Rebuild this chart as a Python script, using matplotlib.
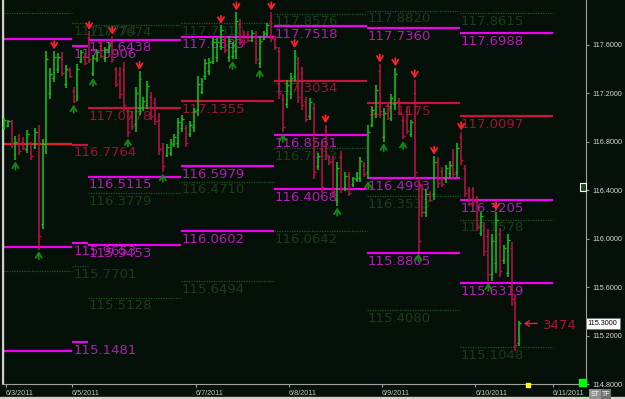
import matplotlib
matplotlib.use('Agg')
import matplotlib.pyplot as plt
from matplotlib import font_manager
from matplotlib.patches import Rectangle

# hourly bars, x = hours from left edge of the chart
bar_hour = list(range(1, 135))
opens = [116.92, 116.93, 116.96, 116.70, 116.82, 116.80, 116.74, 116.78, 116.76, 116.88,
         116.12, 116.78, 117.20, 117.33, 117.40, 117.50, 117.28, 117.39, 117.22, 117.18,
         117.47, 117.51, 117.66, 117.37, 117.48, 117.59, 117.49, 117.55, 117.62, 117.40,
         117.36, 117.40, 117.05, 117.01, 116.95, 117.08, 117.08, 117.10, 117.17, 117.12,
         116.98, 116.75, 116.69, 116.71, 116.78, 116.79, 116.91, 116.91, 116.86, 116.92,
         117.06, 117.21, 117.34, 117.38, 117.47, 117.50, 117.59, 117.64, 117.50, 117.51,
         117.55, 117.77, 117.68, 117.69, 117.64, 117.67, 117.45, 117.65, 117.69, 117.80,
         117.65, 117.55, 117.15, 117.11, 117.19, 117.34, 117.45, 117.37, 117.14, 117.01,
         117.08, 116.60, 116.74, 116.90, 116.67, 116.64, 116.32, 116.67, 116.42, 116.52,
         116.45, 116.49, 116.50, 116.61, 116.55, 116.94, 117.04, 117.38, 116.84, 117.10,
         117.00, 117.11, 117.14, 116.98, 117.05, 116.86, 117.20, 116.45, 116.41, 116.22,
         116.37, 116.37, 116.63, 116.56, 116.49, 116.54, 116.69, 116.55, 116.84, 116.58,
         116.40, 116.41, 116.31, 116.05, 116.10, 116.02, 115.71, 115.80, 116.04, 115.82,
         115.72, 115.92, 115.48, 115.14]
highs = [117.00, 116.98, 116.98, 116.85, 116.86, 116.84, 116.90, 116.80, 116.91, 116.94,
         116.82, 117.55, 117.41, 117.55, 117.53, 117.54, 117.43, 117.41, 117.25, 117.44,
         117.56, 117.53, 117.71, 117.52, 117.56, 117.62, 117.58, 117.62, 117.67, 117.42,
         117.42, 117.46, 117.09, 117.05, 117.25, 117.38, 117.17, 117.30, 117.21, 117.16,
         117.04, 116.79, 116.78, 116.82, 116.86, 117.00, 117.02, 116.94, 116.97, 117.08,
         117.34, 117.33, 117.48, 117.49, 117.66, 117.66, 117.76, 117.67, 117.67, 117.62,
         117.87, 117.81, 117.71, 117.71, 117.72, 117.71, 117.67, 117.71, 117.78, 117.87,
         117.67, 117.58, 117.19, 117.31, 117.37, 117.56, 117.50, 117.42, 117.17, 117.16,
         117.12, 116.71, 116.79, 116.94, 116.69, 116.68, 116.63, 116.72, 116.55, 116.55,
         116.51, 116.55, 116.67, 116.63, 116.94, 117.09, 117.27, 117.44, 117.08, 117.12,
         117.19, 117.41, 117.16, 117.01, 117.09, 116.98, 117.31, 116.51, 116.45, 116.41,
         116.39, 116.68, 116.67, 116.59, 116.61, 116.64, 116.74, 116.79, 116.88, 116.61,
         116.43, 116.43, 116.35, 116.22, 116.14, 116.08, 116.04, 116.22, 116.09, 115.95,
         116.04, 115.97, 115.54, 115.32]
lows = [116.90, 116.92, 116.75, 116.65, 116.69, 116.73, 116.71, 116.65, 116.74, 115.91,
        116.08, 116.70, 117.15, 117.29, 117.37, 117.34, 117.24, 117.33, 117.12, 117.14,
        117.45, 117.43, 117.45, 117.34, 117.46, 117.49, 117.46, 117.53, 117.45, 117.25,
        117.15, 117.05, 116.84, 116.90, 116.88, 117.02, 117.05, 117.07, 116.98, 116.94,
        116.69, 116.55, 116.67, 116.68, 116.76, 116.75, 116.88, 116.76, 116.84, 116.88,
        117.01, 117.19, 117.31, 117.35, 117.44, 117.46, 117.56, 117.53, 117.46, 117.48,
        117.48, 117.60, 117.60, 117.62, 117.62, 117.44, 117.41, 117.64, 117.67, 117.62,
        117.56, 117.15, 116.88, 117.08, 117.15, 117.30, 117.12, 117.06, 116.96, 116.98,
        116.49, 116.57, 116.38, 116.65, 116.61, 116.35, 116.27, 116.38, 116.39, 116.35,
        116.43, 116.47, 116.47, 116.51, 116.49, 116.92, 117.00, 117.00, 116.80, 116.98,
        116.97, 117.06, 117.02, 116.82, 116.86, 116.84, 116.49, 115.89, 116.18, 116.18,
        116.30, 116.32, 116.42, 116.43, 116.46, 116.51, 116.49, 116.51, 116.61, 116.34,
        116.27, 116.27, 116.06, 116.02, 115.86, 115.65, 115.65, 115.72, 115.68, 115.79,
        115.68, 115.44, 115.07, 115.11]
closes = [116.98, 116.97, 116.78, 116.80, 116.72, 116.75, 116.86, 116.68, 116.88, 116.02,
          116.78, 117.48, 117.36, 117.50, 117.50, 117.37, 117.40, 117.34, 117.14, 117.40,
          117.54, 117.45, 117.48, 117.49, 117.54, 117.51, 117.56, 117.60, 117.48, 117.28,
          117.19, 117.10, 116.88, 116.93, 117.20, 117.32, 117.14, 117.26, 117.01, 116.97,
          116.74, 116.60, 116.76, 116.79, 116.84, 116.96, 116.99, 116.79, 116.94, 117.05,
          117.28, 117.30, 117.45, 117.46, 117.62, 117.62, 117.72, 117.56, 117.63, 117.60,
          117.80, 117.63, 117.62, 117.64, 117.70, 117.48, 117.63, 117.70, 117.76, 117.66,
          117.58, 117.20, 116.92, 117.27, 117.33, 117.51, 117.17, 117.10, 116.99, 117.13,
          116.55, 116.68, 116.43, 116.69, 116.63, 116.39, 116.58, 116.42, 116.52, 116.38,
          116.50, 116.54, 116.64, 116.53, 116.88, 117.06, 117.23, 117.05, 117.04, 117.00,
          117.16, 117.36, 117.04, 116.85, 116.89, 116.96, 116.55, 115.98, 116.22, 116.37,
          116.32, 116.63, 116.46, 116.45, 116.58, 116.61, 116.53, 116.75, 116.65, 116.38,
          116.29, 116.30, 116.10, 116.19, 115.90, 115.71, 115.98, 116.15, 115.73, 115.92,
          115.99, 115.50, 115.12, 115.30]
up_arrows = [4, 10, 19, 24, 33, 42, 60, 67, 73, 87, 95, 99, 104, 108, 126]
down_arrows = [14, 23, 29, 36, 57, 61, 70, 76, 84, 98, 102, 107, 112, 119, 128]

# daily pivot segments
seg_start = [-2.0, 18.6, 22.6, 46.6, 70.6, 94.6, 118.6]
seg_end = [18.6, 22.6, 46.6, 70.6, 94.6, 118.6, 142.6]
level_seg = [0, 0, 0, 0, 0, 0,
             1, 1, 1, 1, 1, 1,
             2, 2, 2, 2, 2, 2, 2,
             3, 3, 3, 3, 3, 3, 3,
             4, 4, 4, 4, 4, 4, 4,
             5, 5, 5, 5, 5, 5, 5,
             6, 6, 6, 6, 6, 6, 6]
level_val = [117.860, 117.650, 116.785, 115.929, 115.732, 115.073,
             117.7774, 117.5906, 116.7764, 115.9653, 115.7701, 115.1481,
             117.7674, 117.6438, 117.0778, 116.5115, 116.3779, 115.9453, 115.5128,
             117.7810, 117.6683, 117.1355, 116.5979, 116.4710, 116.0602, 115.6494,
             117.8576, 117.7518, 117.3034, 116.8561, 116.7493, 116.4068, 116.0642,
             117.8820, 117.7360, 117.1175, 116.4993, 116.3533, 115.8805, 115.4080,
             117.8615, 117.6988, 117.0097, 116.3205, 116.1578, 115.6319, 115.1048]
level_kind = ['g', 'm', 'p', 'm', 'g', 'm',
              'g', 'm', 'r', 'm', 'g', 'm',
              'g', 'm', 'r', 'm', 'g', 'm', 'g',
              'g', 'm', 'r', 'm', 'g', 'm', 'g',
              'g', 'm', 'r', 'm', 'g', 'm', 'g',
              'g', 'm', 'r', 'm', 'g', 'm', 'g',
              'g', 'm', 'r', 'm', 'g', 'm', 'g']

date_pos = [1.5, 18.5, 50.6, 74.6, 98.5, 122.6, 142.6]
date_labels = ['6/3/2011', '6/5/2011', '6/7/2011', '6/8/2011', '6/9/2011', '6/10/2011', '6/11/2011']
price_ticks = [117.6, 117.2, 116.8, 116.4, 116.0, 115.6, 115.2, 114.8]
last_price = 115.30
count_label = '3474'

BG = '#041008'
line_col = {'m': '#f000f0', 'r': '#c8143c', 'p': '#e82020', 'g': '#1e5a1e'}
text_col = {'m': '#b41cb4', 'r': '#a01038', 'p': '#a01038', 'g': '#1c3c1c'}

names = {f.name for f in font_manager.fontManager.ttflist}
if 'Liberation Sans Narrow' in names:
    LCD, LCD_SIZE = 'Liberation Sans Narrow', 12.5
else:
    LCD, LCD_SIZE = 'DejaVu Sans', 9.5
SMALL = 'Liberation Sans' if 'Liberation Sans' in names else 'DejaVu Sans'

fig = plt.figure(figsize=(6.25, 3.99), dpi=100)
fig.set_facecolor(BG)
ax = fig.add_axes([2 / 625, 15 / 399, 584 / 625, 384 / 399])
ax.set_facecolor(BG)
ax.set_xlim(0.52, 151.2)
ax.set_ylim(114.81, 117.97)

# pivot levels
for s, v, k in zip(level_seg, level_val, level_kind):
    if k == 'g':
        ax.hlines(v, seg_start[s], seg_end[s], color=line_col[k], lw=0.9,
                  linestyle=(0, (1, 1)), zorder=1)
    else:
        ax.hlines(v, seg_start[s], seg_end[s], color=line_col[k], lw=1.6, zorder=1)
    if s > 0:
        ax.text(seg_start[s] + 0.3, v - 0.014, f'{v:.4f}', ha='left', va='top',
                family=LCD, fontsize=LCD_SIZE, color=text_col[k], zorder=2)

# OHLC bars
cols = ['#14c814' if c >= o else '#c0104a' for o, c in zip(opens, closes)]
xs = bar_hour
ax.vlines(xs, lows, highs, colors=cols, lw=1.1, zorder=3)
ax.hlines(opens, [x - 0.5 for x in xs], xs, colors=cols, lw=1.0, zorder=3)
ax.hlines(closes, xs, [x + 0.5 for x in xs], colors=cols, lw=1.0, zorder=3)

# fractal arrows
for b in down_arrows:
    ax.annotate('', xy=(b, highs[b - 1]), xytext=(0, 7), textcoords='offset points',
                arrowprops=dict(arrowstyle='->,head_length=0.35,head_width=0.22',
                                color='#ff2030', lw=1.3, shrinkA=0, shrinkB=1.2), zorder=4)
for b in up_arrows:
    ax.annotate('', xy=(b, lows[b - 1]), xytext=(0, -7), textcoords='offset points',
                arrowprops=dict(arrowstyle='->,head_length=0.35,head_width=0.22',
                                color='#118a11', lw=1.3, shrinkA=0, shrinkB=1.2), zorder=4)

# last price marker
ax.annotate('', xy=(bar_hour[-1] + 1.2, closes[-1]), xytext=(bar_hour[-1] + 4.6, closes[-1]),
            arrowprops=dict(arrowstyle='->,head_length=0.3,head_width=0.2',
                            color='#e8204a', lw=1.0, shrinkA=0, shrinkB=0))
ax.text(bar_hour[-1] + 6.2, closes[-1] - 0.02, count_label, family=LCD, fontsize=LCD_SIZE,
        color='#b01040', ha='left', va='center')

ax.axvline(0.7, color='#d0d0d0', lw=1.0)

# axes
ax.yaxis.tick_right()
ax.set_yticks(price_ticks)
ax.set_yticklabels([f'{t:.4f}' for t in price_ticks])
ax.set_xticks(date_pos)
ax.set_xticklabels(date_labels)
for lbl in ax.get_xticklabels():
    lbl.set_horizontalalignment('left')
ax.tick_params(axis='y', colors='#9a9a9a', labelcolor='#d8d8d8', labelsize=5.2,
               length=2.5, width=0.8, pad=2)
ax.tick_params(axis='x', colors='#9a9a9a', labelcolor='#c8c8c8', labelsize=5.2,
               length=2, width=0.8, pad=2.5)
for lbl in ax.get_xticklabels() + ax.get_yticklabels():
    lbl.set_family(SMALL)
ax.spines['top'].set_visible(False)
ax.spines['left'].set_color('#c8c8c8')
ax.spines['right'].set_color('#a0a0a0')
ax.spines['bottom'].set_color('#a0a0a0')

ax.text(1.003, last_price, f'{last_price:.4f}', transform=ax.get_yaxis_transform(),
        ha='left', va='center', fontsize=5.2, family=SMALL, color='black',
        bbox=dict(boxstyle='square,pad=0.3', fc='white', ec='#707070', lw=0.5), zorder=6)

# window bits
fig.add_artist(Rectangle((0, 0), 1, 2 / 399, transform=fig.transFigure,
                         color='#d4d0c8', zorder=0))
fig.add_artist(Rectangle((579 / 625, 13 / 399), 7 / 625, 7 / 399, transform=fig.transFigure,
                         color='#00ff00', zorder=7))
fig.add_artist(Rectangle((526 / 625, 12 / 399), 4 / 625, 4 / 399, transform=fig.transFigure,
                         color='#ffff00', zorder=7))
fig.add_artist(Rectangle((580 / 625, 208 / 399), 6 / 625, 8 / 399, transform=fig.transFigure,
                         fc='#1c4a1c', ec='white', lw=0.8, zorder=7))
fig.text(595 / 625, 5 / 399, 'ST', fontsize=5, family=SMALL, color='white',
         ha='center', va='center', bbox=dict(boxstyle='square,pad=0.15', fc='#909090', ec='none'))
fig.text(606 / 625, 5 / 399, 'TF', fontsize=5, family=SMALL, color='white',
         ha='center', va='center', bbox=dict(boxstyle='square,pad=0.15', fc='#707070', ec='none'))

fig.savefig('out.png', dpi=100, facecolor=BG)
